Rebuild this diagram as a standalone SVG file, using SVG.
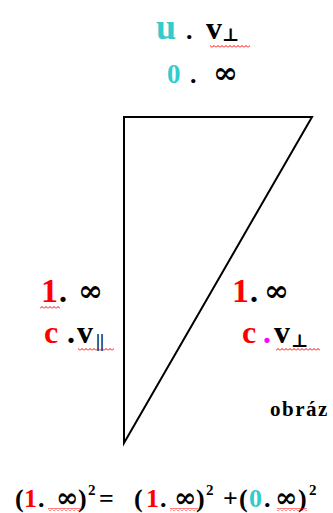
<svg xmlns="http://www.w3.org/2000/svg" width="333" height="513" viewBox="0 0 333 513">
<style>
text{font-family:"Liberation Serif","DejaVu Serif",serif;font-weight:bold;fill:#000}
.c{fill:#33CCCC}.r{fill:#FF0000}.m{fill:#FF00FF}
.l{font-size:32px}.s{font-size:18px}.b{font-size:26px}.p{font-size:15px}
.inf{font-family:"DejaVu Serif",serif}
.edge{stroke:#000;stroke-width:2;fill:none}
</style>
<defs>
<pattern id="sq" patternUnits="userSpaceOnUse" width="4" height="3"><path d="M0 2.5 L2 0.5 L4 2.5" stroke="#FF0000" stroke-width="1" fill="none"/></pattern>
</defs>
<rect width="333" height="513" fill="#fff"/>
<g id="connectors">
<path class="edge" d="M124 443 L124 117 L312 117 Z"/>
</g>
<g id="top">
<text class="l c" x="156" y="39" style="font-size:36px">u</text>
<text class="b" x="186" y="39">.</text>
<text class="l" x="206" y="39">v</text>
<text class="s" x="222" y="41">⊥</text>
<text class="l c" x="167" y="83" style="font-size:27px">0</text>
<text class="b" x="190" y="83">.</text>
<text class="l inf" x="213" y="83" style="font-size:30px">∞</text>
</g>
<g id="left">
<text class="l r" x="41" y="302" style="font-size:34px">1</text>
<text class="l" x="59" y="302">.</text>
<text class="l inf" x="78" y="301" style="font-size:30px">∞</text>
<text class="l r" x="44" y="343">c</text>
<text class="l" x="67" y="343">.</text>
<text class="l" x="77" y="343">v</text>
<text class="s" x="96" y="347">||</text>
</g>
<g id="right">
<text class="l r" x="232" y="302" style="font-size:34px">1</text>
<text class="l" x="250" y="302">.</text>
<text class="l inf" x="264" y="301" style="font-size:30px">∞</text>
<text class="l r" x="242" y="343">c</text>
<text class="l m" x="263" y="343">.</text>
<text class="l" x="274" y="343">v</text>
<text class="s" x="291" y="347">⊥</text>
</g>
<g id="caption">
<text x="270" y="416" style="font-size:21px;letter-spacing:1.5px">obráz</text>
</g>
<g id="equation">
<text class="b" x="15" y="507">(</text>
<text class="b r" x="24" y="507">1</text>
<text class="b" x="38" y="507">.</text>
<text class="b inf" x="56" y="507" style="font-size:27px">∞</text>
<text class="b" x="78" y="507">)</text>
<text class="p" x="88" y="495">2</text>
<text class="b" x="99" y="507">=</text>
<text class="b" x="134" y="507">(</text>
<text class="b r" x="146" y="507">1</text>
<text class="b" x="160" y="507">.</text>
<text class="b inf" x="174" y="507" style="font-size:27px">∞</text>
<text class="b" x="196" y="507">)</text>
<text class="p" x="206" y="495">2</text>
<text class="b" x="223" y="507">+</text>
<text class="b" x="239" y="507">(</text>
<text class="b c" x="249" y="507">0</text>
<text class="b" x="264" y="507">.</text>
<text class="b inf" x="275" y="507" style="font-size:27px">∞</text>
<text class="b" x="298" y="507">)</text>
<text class="p" x="309" y="495">2</text>
</g>
<g id="squiggles">
<rect x="210" y="45" width="40" height="3" fill="url(#sq)"/>
<rect x="40" y="306" width="20" height="3" fill="url(#sq)"/>
<rect x="78" y="348" width="36" height="3" fill="url(#sq)"/>
<rect x="276" y="348" width="44" height="3" fill="url(#sq)"/>
<rect x="48" y="508" width="34" height="3" fill="url(#sq)"/>
<rect x="170" y="508" width="28" height="3" fill="url(#sq)"/>
<rect x="277" y="508" width="30" height="3" fill="url(#sq)"/>
</g>
</svg>
